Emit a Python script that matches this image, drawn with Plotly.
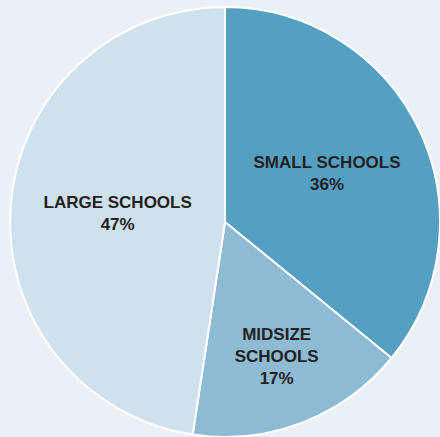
import plotly.graph_objects as go

labels = ["SMALL SCHOOLS", "MIDSIZE<br>SCHOOLS", "LARGE SCHOOLS"]
values = [35.9, 16.5, 47.6]
pct_labels = ["36%", "17%", "47%"]
colors = ["#559fc3", "#8ebad3", "#cfe1ec"]

fig = go.Figure(go.Pie(
    labels=labels,
    values=values,
    text=pct_labels,
    sort=False,
    direction="clockwise",
    rotation=0,
    marker=dict(colors=colors, line=dict(color="white", width=2)),
    texttemplate="<b>%{label}<br>%{text}</b>",
    textposition="inside",
    insidetextorientation="horizontal",
    textfont=dict(family="Liberation Sans", size=17, color="#231f20"),
    hoverinfo="label+text",
    domain=dict(x=[10/440, 1], y=[0, 430/437]),
    showlegend=False,
))
fig.update_layout(
    width=440, height=437,
    margin=dict(l=0, r=0, t=0, b=0),
    paper_bgcolor="#eaf0f6",
    plot_bgcolor="#eaf0f6",
    uniformtext=dict(minsize=17, mode="show"),
)
fig.write_html("out.html")
